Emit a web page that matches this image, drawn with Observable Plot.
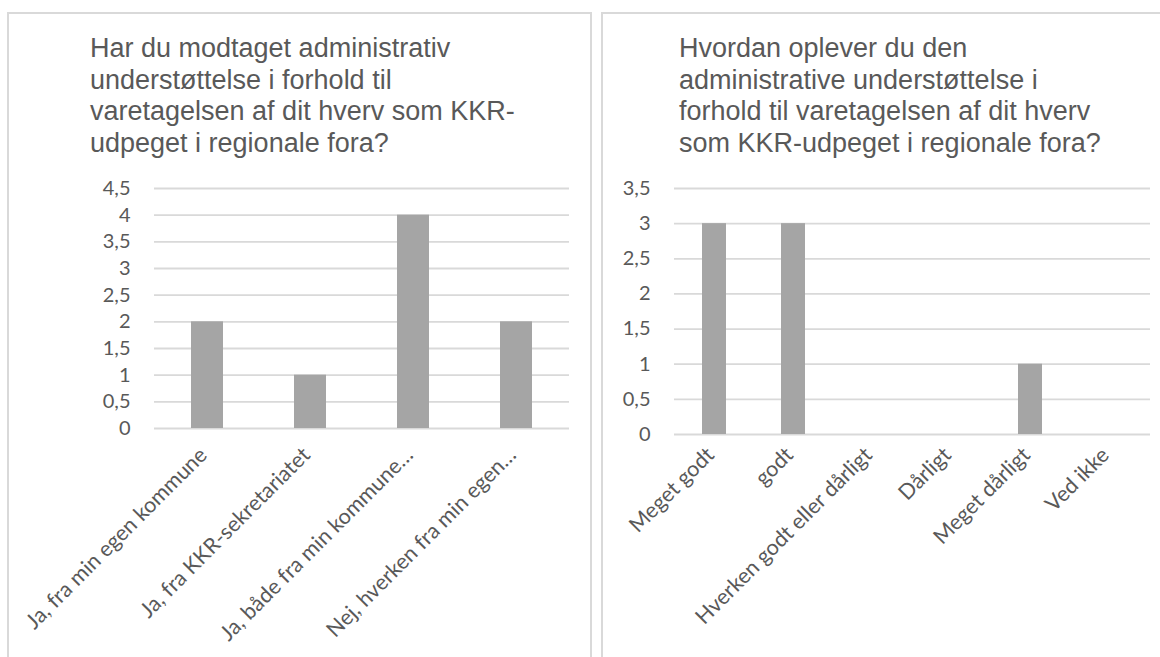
<!DOCTYPE html>
<html>
<head>
<meta charset="utf-8">
<script src="https://cdn.jsdelivr.net/npm/d3@7"></script>
<script src="https://cdn.jsdelivr.net/npm/@observablehq/plot@0.6"></script>
<style>
  html, body { margin: 0; padding: 0; background: #fff; }
  body { width: 1160px; height: 657px; position: relative; overflow: hidden; }
  .panel { position: absolute; top: 12px; height: 700px; box-sizing: border-box;
           border: 2px solid #d9d9d9; background: #fff; }
  .title { position: absolute; top: 33px; font-family: "Liberation Sans", Arial, sans-serif;
           font-size: 27px; line-height: 31.5px; color: #595959; white-space: nowrap; }
  .chart { position: absolute; top: 170px; }
  .chart svg { overflow: visible; max-width: none; background: transparent; }
</style>
</head>
<body>
<div class="panel" style="left:7px;width:585px;"></div>
<div class="panel" style="left:601px;width:620px;"></div>
<div class="title" id="t1" style="left:90px;"></div>
<div class="title" id="t2" style="left:679px;"></div>
<div class="chart" id="c1" style="left:10px;"></div>
<div class="chart" id="c2" style="left:604px;"></div>
<script>
// ---- data ----
const title1Lines = ["Har du modtaget administrativ", "understøttelse i forhold til", "varetagelsen af dit hverv som KKR-", "udpeget i regionale fora?"];
const categories1 = ["Ja, fra min egen kommune", "Ja, fra KKR-sekretariatet", "Ja, både fra min kommune…", "Nej, hverken fra min egen…"];
const values1 = [2, 1, 4, 2];
const ticks1 = [0, 0.5, 1, 1.5, 2, 2.5, 3, 3.5, 4, 4.5];

const title2Lines = ["Hvordan oplever du den", "administrative understøttelse i", "forhold til varetagelsen af dit hverv", "som KKR-udpeget i regionale fora?"];
const categories2 = ["Meget godt", "godt", "Hverken godt eller dårligt", "Dårligt", "Meget dårligt", "Ved ikke"];
const values2 = [3, 3, 0, 0, 1, 0];
const ticks2 = [0, 0.5, 1, 1.5, 2, 2.5, 3, 3.5];

// ---- titles ----
function setTitle(id, lines) {
  const el = document.getElementById(id);
  lines.forEach((l, i) => {
    if (i) el.appendChild(document.createElement("br"));
    el.appendChild(document.createTextNode(l));
  });
}
setTitle("t1", title1Lines);
setTitle("t2", title2Lines);

const fmt = d => String(d).replace(".", ",");

function makeChart(cats, vals, ticks, opts) {
  const data = cats.map((c, i) => ({cat: c, val: vals[i]}));
  return Plot.plot({
    width: opts.width,
    height: opts.height,
    marginLeft: opts.marginLeft,
    marginRight: opts.marginRight,
    marginTop: opts.marginTop,
    marginBottom: opts.marginBottom,
    style: {fontFamily: "Lato, 'Open Sans', sans-serif", fontSize: "20px", color: "#595959", background: "transparent", overflow: "visible"},
    x: {domain: cats, paddingInner: 0.69, paddingOuter: 0.345, label: null},
    y: {domain: [0, ticks[ticks.length - 1]], label: null},
    marks: [
      Plot.gridY(ticks, {stroke: "#d9d9d9", strokeOpacity: 1, strokeWidth: 1.8}),
      Plot.barY(data, {x: "cat", y: "val", fill: "#a5a5a5"}),
      Plot.axisY({ticks: ticks, tickSize: 0, tickPadding: 24, tickFormat: fmt, fill: "#595959", fontSize: 20}),
      Plot.axisX({tickSize: 0, tickRotate: -45, tickPadding: opts.xPad, fill: "#595959", fontSize: 21.5, dx: -4})
    ]
  });
}

document.getElementById("c1").appendChild(makeChart(categories1, values1, ticks1, {
  width: 575, height: 487, marginLeft: 144, marginRight: 16, marginTop: 18, marginBottom: 229, xPad: 23
}));
document.getElementById("c2").appendChild(makeChart(categories2, values2, ticks2, {
  width: 556, height: 487, marginLeft: 70, marginRight: 10, marginTop: 18, marginBottom: 223, xPad: 17
}));
</script>
</body>
</html>
